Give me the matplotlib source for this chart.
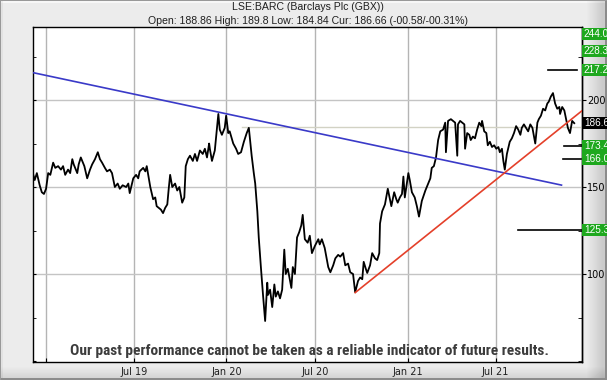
import matplotlib
matplotlib.use("Agg")
import matplotlib.pyplot as plt
import matplotlib.transforms as mtransforms
from matplotlib import font_manager
from matplotlib.patches import Rectangle
from matplotlib.ticker import FixedLocator, MultipleLocator
import numpy as np

TITLE = "LSE:BARC (Barclays Plc (GBX))"
SUBTITLE = "Open: 188.86 High: 189.8 Low: 184.84 Cur: 186.66 (-00.58/-00.31%)"
DISCLAIMER = "Our past performance cannot be taken as a reliable indicator of future results."

# trading session number (0 = first session shown) and closing price, GBX
session = [
    0, 2, 5, 9, 12, 15, 18, 21, 24, 28, 31, 35, 39, 42, 45, 49, 52, 55, 57, 62,
    64, 67, 72, 76, 80, 83, 87, 91, 94, 97, 101, 104, 108, 111, 115, 119, 122, 126, 131, 134,
    136, 141, 145, 148, 150, 155, 158, 160, 165, 169, 172, 174, 177, 180, 183, 186, 189, 191, 193, 196,
    200, 203, 206, 210, 213, 215, 218, 221, 225, 228, 231, 235, 239, 242, 245, 248, 249, 252, 256, 261,
    263, 266, 270, 272, 275, 277, 282, 286, 289, 293, 297, 301, 304, 306, 308, 311, 313, 316, 318, 321,
    324, 327, 330, 331, 334, 337, 340, 342, 345, 348, 351, 354, 356, 359, 364, 366, 369, 372, 375, 378,
    380, 383, 387, 390, 393, 397, 402, 404, 407, 411, 416, 419, 423, 426, 430, 433, 437, 440, 444, 447,
    451, 454, 458, 461, 464, 466, 469, 471, 475, 478, 482, 485, 488, 489, 492, 496, 500, 505, 509, 512,
    514, 517, 520, 522, 524, 529, 531, 534, 538, 541, 544, 548, 553, 557, 560, 562, 565, 568, 571, 574,
    578, 581, 582, 585, 589, 592, 595, 598, 599, 602, 605, 608, 609, 612, 615, 617, 620, 623, 626, 629,
    632, 633, 636, 639, 641, 644, 647, 650, 653, 656, 658, 661, 663, 665, 668, 672, 675, 678, 681, 684,
    687, 689, 692, 695, 698, 701, 704, 708, 711, 713, 716, 719, 722, 725, 727, 730, 733, 736, 739, 742,
    743, 746, 749, 750, 753, 754, 757, 760, 763,
]
price = [
    157, 154, 158, 151, 147, 146, 149, 158, 157, 164, 161, 162, 160, 162, 157, 160, 158, 166, 163, 158,
    163, 167, 162, 155, 160, 163, 166, 170, 166, 164, 161, 159, 160, 158, 150, 152, 149, 151, 150, 152,
    146.5, 155, 157, 155, 159, 161, 159, 162, 150, 143, 144, 139, 138, 137, 135, 138, 140, 149, 157, 150,
    152, 148, 150, 141, 144, 162, 166, 168, 165, 169, 165, 171, 169, 172, 167, 175, 172, 165, 171, 192,
    183, 180, 184, 191, 181, 182, 175, 172, 169, 170, 176, 181, 184, 176, 168, 158, 152, 136, 121, 104,
    88, 73, 95, 88, 91, 81, 94, 87, 90, 86, 91, 114, 100, 103, 92, 104, 100, 121, 124, 128,
    134, 120, 118, 122, 112, 116, 120, 117, 120, 115, 104, 101, 105, 109, 111, 110, 112, 105, 106, 101,
    100, 89.5, 96, 98, 97, 107, 103, 100.6, 105, 112, 109, 108, 112, 129, 136, 140, 149, 139, 147, 143,
    141, 144, 146, 156, 144, 158, 154, 147, 144, 139, 133, 142, 148, 152, 155, 161, 162, 167, 177, 182,
    183, 187, 170, 188, 189, 188, 187, 168, 186, 188, 187, 186, 172, 181, 180, 177, 179, 178, 183, 187,
    185, 188, 182, 181, 174, 176, 173, 174, 172, 173, 170, 172, 165, 160, 169, 176, 178, 181, 185, 183,
    180, 184, 186, 184, 182, 186, 184, 175, 187, 189, 191, 195, 194, 198, 199, 202, 204, 198, 195, 196,
    192, 196, 194, 192, 186, 184, 181, 188, 186.7,
]

month_ticks = [18.6, 142.5, 272.5, 398, 528, 652]
month_labels = ["", "Jul 19", "Jan 20", "Jul 20", "Jan 21", "Jul 21"]

blue_trend_x = [0, 745]
blue_trend_y = [215.7, 151.1]
red_trend_x = [454, 773.5]
red_trend_y = [89.3, 193.7]

current_price = 186.66
prev_level = 184.3
prev_level_from = 294

targets = [244.0, 228.3, 217.2, 173.4, 166.0, 125.3]
target_labels = ["244.0", "228.3", "217.2", "173.4", "166.0", "125.3"]
target_from = [None, None, 726, 748, 747, 684]
target_to = [None, None, 767, 773.5, 772, 773.5]

X_MAX = 773.5
Y_MIN, Y_MAX = 49.6, 241.8

W, H = 607, 380
fig = plt.figure(figsize=(W / 100, H / 100), dpi=100)

# bevelled grey frame behind everything
bg = np.full((H, W), 0.925)
xx = np.arange(W)
yy = np.arange(H)
right_shade = np.clip((xx - 586) / 16.0, 0, 1)
bg -= 0.13 * right_shade[None, :]
bottom_shade = np.clip((yy - 366) / 12.0, 0, 1)
bg -= 0.10 * bottom_shade[:, None]
bg[:, :3] -= 0.04
bg[:3, :] += 0.04
bg[:, -2:] = 0.55
bg[-2:, :] = 0.55
bg[:, :1] = 0.6
bg[:1, :] = 0.6
bg_ax = fig.add_axes([0, 0, 1, 1], zorder=-5)
bg_ax.imshow(np.clip(bg, 0, 1), cmap="gray", vmin=0, vmax=1, extent=(0, 1, 0, 1), aspect="auto",
             interpolation="nearest")
bg_ax.axis("off")

left, right, top, bottom = 33.3, 581.7, 27.3, 361.7
ax = fig.add_axes([left / W, 1 - bottom / H, (right - left) / W, (bottom - top) / H])
ax.set_facecolor("white")
ax.set_xlim(0, X_MAX)
ax.set_ylim(Y_MIN, Y_MAX)

for s in ax.spines.values():
    s.set_linewidth(1.0)
    s.set_color("black")

for xt in month_ticks:
    ax.axvline(xt, color="#b4b4b4", lw=1.0, zorder=1)
for yv in (100, 150, 200):
    ax.axhline(yv, color="#c4c4c4", lw=1.0, zorder=1)
ax.plot([prev_level_from, X_MAX], [prev_level, prev_level], color="#d2d2c4", lw=1.0, zorder=1)

ax.plot(session, price, color="black", lw=1.3, zorder=3)
ax.plot(blue_trend_x, blue_trend_y, color="#3a3ac8", lw=1.2, zorder=4)
ax.plot(red_trend_x, red_trend_y, color="#e4402a", lw=1.2, zorder=4)

for val, x0, x1 in zip(targets, target_from, target_to):
    if x0 is not None:
        ax.plot([x0, x1], [val, val], color="black", lw=1.2, zorder=4)

ax.set_xticks(month_ticks)
ax.set_xticklabels(month_labels)
ax.tick_params(axis="x", direction="in", length=3, labelsize=7, pad=4, colors="black")
for lab in ax.get_xticklabels():
    lab.set_color("#202020")

ax.yaxis.set_major_locator(MultipleLocator(50))
ax.yaxis.set_minor_locator(MultipleLocator(25))
ax.tick_params(axis="y", which="both", direction="in", length=2.5, left=True, right=False,
               labelleft=False)

sec = ax.secondary_yaxis("right")
sec.yaxis.set_major_locator(FixedLocator([100, 150, 200]))
sec.yaxis.set_minor_locator(FixedLocator([50, 75, 125, 175, 225]))
sec.tick_params(which="major", direction="out", length=3, labelsize=7, pad=1)
sec.tick_params(which="minor", direction="in", length=3)
sec.spines["right"].set_linewidth(1.0)

# value boxes on the right axis (cut by the picture edge, as in the source chart)
trans = mtransforms.blended_transform_factory(ax.transAxes, ax.transData)
half = 3.6
boxes = list(zip(targets, target_labels, ["#1ea81e"] * len(targets)))
boxes.append((current_price, f"{current_price:.2f}", "black"))
for val, lab, col in boxes:
    yc = min(val, Y_MAX - half - 0.3)
    ax.add_patch(Rectangle((1.0, yc - half), 0.1, 2 * half, transform=trans, facecolor=col,
                           edgecolor="none", clip_on=False, zorder=6))
    ax.text(1.004, yc, lab, transform=trans, ha="left", va="center", color="white", fontsize=7.2,
            family="Liberation Sans", clip_on=False, zorder=7)

fig.text(307.5 / W, 1 - 7.5 / H, TITLE, ha="center", va="center", fontsize=7.6,
         family="Liberation Sans", color="#202020")
fig.text(307.5 / W, 1 - 20.7 / H, SUBTITLE, ha="center", va="center", fontsize=7.6,
         family="Liberation Sans", color="#202020")

names = {f.name for f in font_manager.fontManager.ttflist}
narrow = "Roboto"
for cand in ("Liberation Sans Narrow", "Roboto Condensed", "Roboto"):
    if cand in names:
        narrow = cand
        break
disc = fig.text(309 / W, 1 - 350.7 / H, DISCLAIMER, ha="center", va="center", fontsize=10.5,
                family=narrow, fontweight="bold", color="#3c3c3c")
fig.canvas.draw()
width = disc.get_window_extent().width
disc.set_fontsize(10.5 * 481.0 / width)

fig.savefig("out.png", dpi=100)
